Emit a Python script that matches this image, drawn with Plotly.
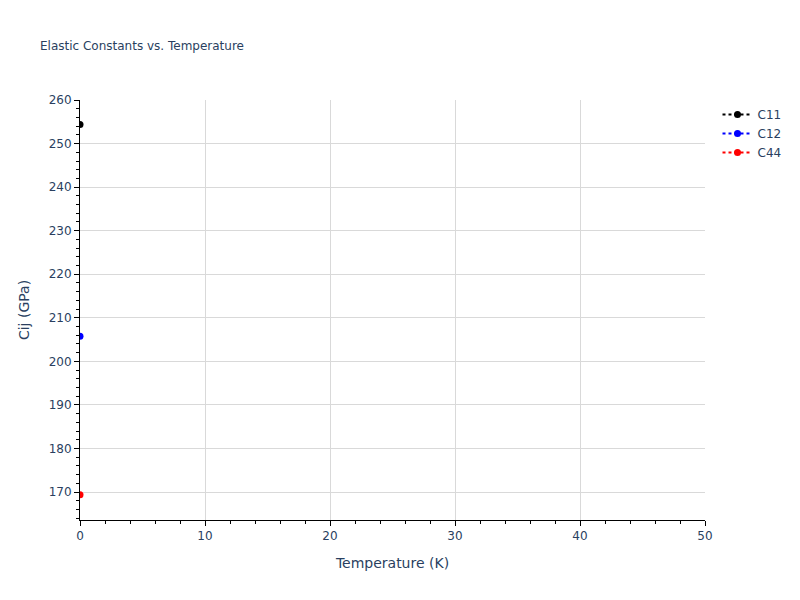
import plotly.graph_objects as go

# Elastic constants (GPa)
temperature = [0]
c11 = [254.4]
c12 = [205.8]
c44 = [169.4]

series = [("C11", c11, "black"), ("C12", c12, "blue"), ("C44", c44, "red")]

fig = go.Figure()
for name, vals, color in series:
    fig.add_trace(go.Scatter(
        x=temperature, y=vals, name=name,
        mode="lines+markers",
        line=dict(color=color, dash="dot"),
        marker=dict(color=color, size=7),
    ))

axis_style = dict(
    showline=True, linecolor="black", linewidth=1,
    ticks="outside", tickcolor="black", ticklen=5,
    showgrid=True, gridcolor="#d9d9d9",
    minor=dict(ticks="outside", ticklen=3, tickcolor="black", dtick=2),
)

fig.update_layout(
    template="plotly_white",
    font=dict(family="Verdana, DejaVu Sans, sans-serif"),
    title=dict(text="Elastic Constants vs. Temperature", x=0.05, y=0.93,
               font=dict(size=12)),
    xaxis=dict(title="Temperature (K)", range=[0, 50], dtick=10, **axis_style),
    yaxis=dict(title="Cij (GPa)", range=[163.6, 260], dtick=10, **axis_style),
    width=800, height=600,
    margin=dict(l=80, r=95, t=100, b=80),
)

# drop the default page margin so the figure sits at the window corner
fig.write_html("out.html", config={"displayModeBar": False},
               post_script="document.body.style.margin='0';")
